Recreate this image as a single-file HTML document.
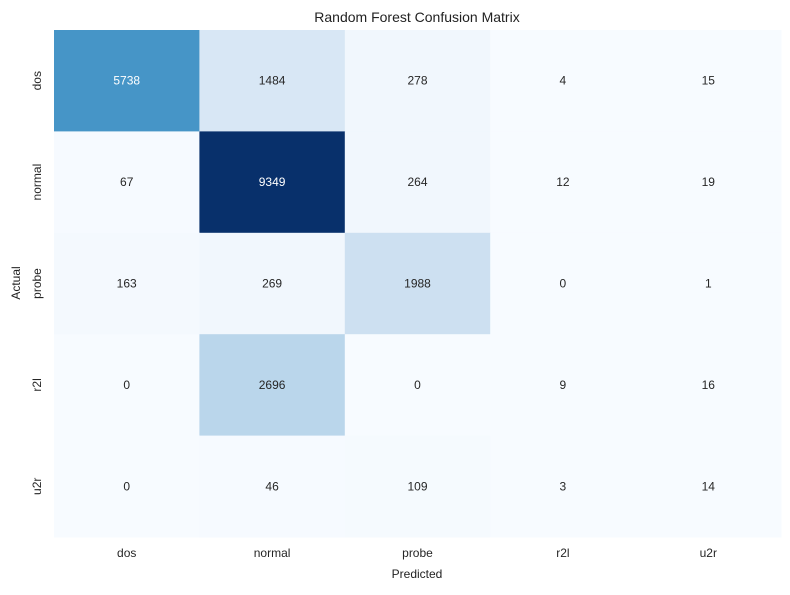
<!DOCTYPE html>
<html><head><meta charset="utf-8"><style>
body{margin:0;background:#fff;font-family:"Liberation Sans","DejaVu Sans",sans-serif}
</style></head><body>
<svg id="chart" width="790" height="590" xmlns="http://www.w3.org/2000/svg">
<rect width="790" height="590" fill="#fff"/>
<text x="417" y="22" text-anchor="middle" font-size="14" fill="#222">Random Forest Confusion Matrix</text>
<g id="cells"></g>
<g id="xt"></g><g id="yt"></g>
<text x="417" y="578" text-anchor="middle" font-size="12" fill="#222">Predicted</text>
<text transform="translate(20,283) rotate(-90)" text-anchor="middle" font-size="12" fill="#222">Actual</text>
</svg>
<script>
const predictedLabels=["dos","normal","probe","r2l","u2r"];
const actualLabels=["dos","normal","probe","r2l","u2r"];
const rowDos=[5738,1484,278,4,15];
const rowNormal=[67,9349,264,12,19];
const rowProbe=[163,269,1988,0,1];
const rowR2l=[0,2696,0,9,16];
const rowU2r=[0,46,109,3,14];
const matrix=[rowDos,rowNormal,rowProbe,rowR2l,rowU2r];

const X0=54,X1=781,Y0=30,Y1=537;
const cw=(X1-X0)/predictedLabels.length, ch=(Y1-Y0)/actualLabels.length;
const xPos=i=>X0+i*cw, yPos=j=>Y0+j*ch;
const stops=["#f7fbff","#deebf7","#c6dbef","#9ecae1","#6baed6","#4292c6","#2171b5","#08519c","#08306b"].map(h=>[1,3,5].map(k=>parseInt(h.substr(k,2),16)));
function blues(t){t=Math.max(0,Math.min(1,t))*8;const i=Math.min(7,Math.floor(t)),f=t-i;return stops[i].map((c,k)=>Math.round(c+(stops[i+1][k]-c)*f));}
const vmax=Math.max(...matrix.flat()),vmin=Math.min(...matrix.flat());
const NS="http://www.w3.org/2000/svg";
const lin=c=>{c/=255;return c<=0.03928?c/12.92:Math.pow((c+0.055)/1.055,2.4);};
const cells=document.getElementById('cells');
matrix.forEach((row,j)=>row.forEach((v,i)=>{
 const c=blues((v-vmin)/(vmax-vmin));
 const r=document.createElementNS(NS,'rect');
 r.setAttribute('x',xPos(i));r.setAttribute('y',yPos(j));r.setAttribute('width',cw+0.5);r.setAttribute('height',ch+0.5);
 r.setAttribute('fill',`rgb(${c})`);
 
 
 cells.appendChild(r);
 const lum=0.2126*lin(c[0])+0.7152*lin(c[1])+0.0722*lin(c[2]);
 const t=document.createElementNS(NS,'text');
 t.setAttribute('x',xPos(i)+cw/2);t.setAttribute('y',yPos(j)+ch/2+4);
 t.setAttribute('text-anchor','middle');t.setAttribute('font-size','12');
 t.setAttribute('fill',lum>0.408?'#262626':'#ffffff');
 t.textContent=v;
 
 
 cells.appendChild(t);
}));
const xt=document.getElementById('xt');
predictedLabels.forEach((l,i)=>{
 const t=document.createElementNS(NS,'text');
 t.setAttribute('x',xPos(i)+cw/2);t.setAttribute('y',557);t.setAttribute('text-anchor','middle');
 t.setAttribute('font-size','12');t.setAttribute('fill','#262626');t.textContent=l;
 
 
 xt.appendChild(t);
});
const yt=document.getElementById('yt');
actualLabels.forEach((l,j)=>{
 const t=document.createElementNS(NS,'text');
 t.setAttribute('transform',`translate(41,${yPos(j)+ch/2}) rotate(-90)`);t.setAttribute('text-anchor','middle');
 t.setAttribute('font-size','12');t.setAttribute('fill','#262626');t.textContent=l;
 
 
 yt.appendChild(t);
});
</script>
</body></html>
